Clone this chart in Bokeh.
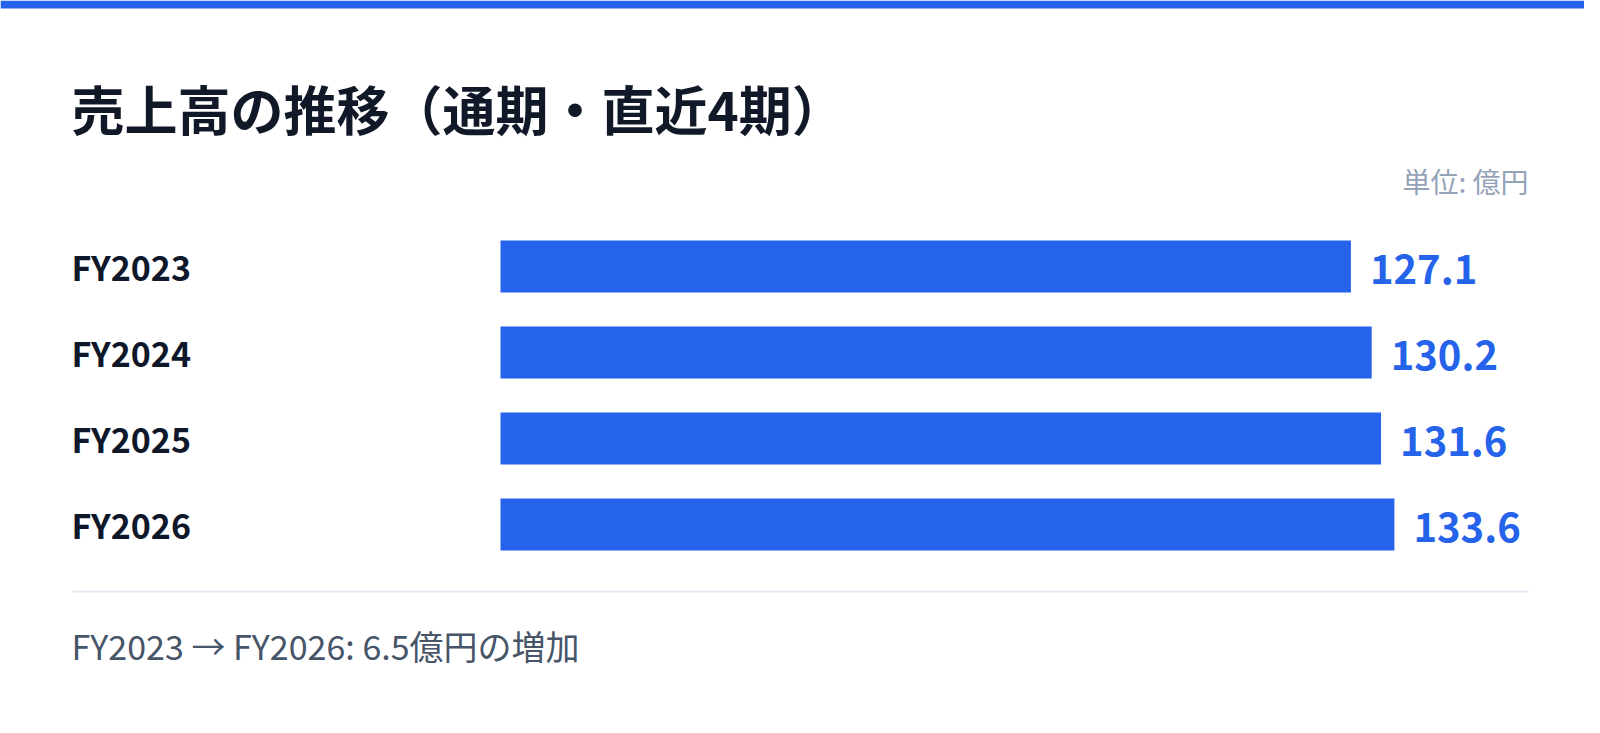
from bokeh.plotting import figure
from bokeh.models import Range1d, Label, BoxAnnotation, ColumnDataSource
from bokeh.core.properties import value
from bokeh.embed import file_html
from bokeh.resources import INLINE

# ---- data ----
categories = ["FY2023", "FY2024", "FY2025", "FY2026"]
sales = [127.1, 130.2, 131.6, 133.6]
title_text = "売上高の推移（通期・直近4期）"
unit_text = "単位: 億円"
diff = round(sales[-1] - sales[0], 1)
footer_text = f"{categories[0]} → {categories[-1]}: {diff}億円の増加"

# ---- styling / layout (canvas px) ----
BLUE = "#2563eb"
DARK = "#0f172a"
FONT = "Noto Sans CJK JP"
W, H = 1584, 717
BAR_X0, BAR_X1 = 500, 1528        # where 0 and the axis max land
ROW0, ROW_STEP = 266, 86          # centre of first row, row spacing
LEFT = 71

xmax = max(sales) * 1.15
k = (BAR_X1 - BAR_X0) / xmax      # px per unit

p = figure(width=W, height=H, output_backend="svg", toolbar_location=None,
           x_range=Range1d(-BAR_X0 / k, xmax + (W - BAR_X1) / k),
           y_range=Range1d((H - ROW0) / ROW_STEP, -ROW0 / ROW_STEP),
           x_axis_location=None, y_axis_location=None, title=None,
           min_border=0)
p.outline_line_color = None
p.background_fill_color = "white"
p.border_fill_color = "white"
p.xgrid.visible = False
p.ygrid.visible = False

rows = list(range(len(categories)))
src = ColumnDataSource(dict(row=rows, cat=categories, val=sales,
                            zero=[0] * len(sales),
                            lbl=[f"{v:.1f}" for v in sales]))
p.hbar(y="row", right="val", left=0, height=52 / ROW_STEP, source=src,
       fill_color=BLUE, line_color=None)
p.text(x="val", y="row", text="lbl", source=src, x_offset=19, y_offset=2,
       text_baseline="middle", text_align="left",
       text_font=value(FONT), text_font_style="bold",
       text_font_size="40px", text_color=BLUE)
p.text(x="zero", y="row", text="cat", source=src, x_offset=LEFT - BAR_X0,
       text_baseline="middle", text_align="left",
       text_font=value(FONT), text_font_style="bold",
       text_font_size="34px", text_color=DARK)

# top accent bar
p.add_layout(BoxAnnotation(left=0, right=W, top=H, bottom=H - 8,
                           left_units="screen", right_units="screen",
                           top_units="screen", bottom_units="screen",
                           fill_color=BLUE, fill_alpha=1, line_color=None))
# divider
p.add_layout(BoxAnnotation(left=72, right=BAR_X1, top=H - 590, bottom=H - 592,
                           left_units="screen", right_units="screen",
                           top_units="screen", bottom_units="screen",
                           fill_color="#e2e8f0", fill_alpha=1, line_color=None))

p.add_layout(Label(x=LEFT, y=H - 107, x_units="screen", y_units="screen",
                   text=title_text, text_font=FONT, text_font_style="bold",
                   text_font_size="53px", text_color="#111827",
                   text_baseline="middle", text_align="left"))
p.add_layout(Label(x=BAR_X1, y=H - 180, x_units="screen", y_units="screen",
                   text=unit_text, text_font=FONT, text_font_size="28px",
                   text_color="#94a3b8", text_baseline="middle", text_align="right"))
p.add_layout(Label(x=LEFT, y=H - 645, x_units="screen", y_units="screen",
                   text=footer_text, text_font=FONT, text_font_size="34px",
                   text_color="#475569", text_baseline="alphabetic", text_align="left"))

open("out.html", "w").write(file_html(p, INLINE))
